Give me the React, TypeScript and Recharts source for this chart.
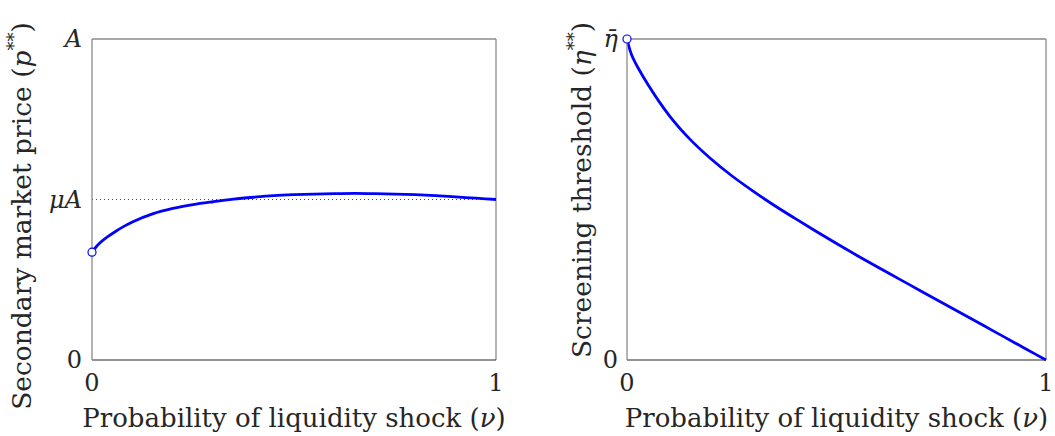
import React from 'react';
import { LineChart, Line, XAxis, YAxis, ReferenceLine, ReferenceDot } from 'recharts';

// Left panel: secondary market price p** (in units of A) vs nu
const nuLeft = [0, 0.01, 0.02, 0.04, 0.06, 0.08, 0.1, 0.15, 0.2, 0.25, 0.3, 0.35, 0.4, 0.45, 0.5, 0.55, 0.6, 0.65, 0.7, 0.75, 0.8, 0.85, 0.9, 0.95, 1.0];
const priceLeft = [0.336, 0.352, 0.365, 0.385, 0.402, 0.417, 0.43, 0.455, 0.472, 0.484, 0.493, 0.501, 0.507, 0.512, 0.515, 0.517, 0.518, 0.519, 0.518, 0.517, 0.515, 0.512, 0.508, 0.504, 0.5];

// Right panel: screening threshold eta** (in units of eta-bar) vs nu
const nuRight = [0, 0.005, 0.01, 0.02, 0.03, 0.05, 0.075, 0.1, 0.15, 0.2, 0.25, 0.3, 0.35, 0.4, 0.45, 0.5, 0.55, 0.6, 0.65, 0.7, 0.75, 0.8, 0.85, 0.9, 0.95, 1.0];
const etaRight = [1, 0.975, 0.954, 0.926, 0.902, 0.858, 0.808, 0.763, 0.688, 0.627, 0.574, 0.527, 0.483, 0.442, 0.402, 0.363, 0.325, 0.288, 0.252, 0.216, 0.18, 0.144, 0.108, 0.072, 0.036, 0];

const xTicks = [0, 1];
const xTickLabels = ['0', '1'];
const leftYTicks = [0, 0.5, 1];
const leftYTickLabels = ['0', 'μA', 'A'];
const rightYTicks = [0, 1];
const rightYTickLabels = ['0', 'η\u0304'];
const muLevel = 0.5;

const FONT = "'DejaVu Serif', serif";
const BLUE = '#0000ff';
const DARK = '#262626';
const GRAY = '#8a8a8a';

const leftData = nuLeft.map((n, i) => ({ nu: n, v: priceLeft[i] }));
const rightData = nuRight.map((n, i) => ({ nu: n, v: etaRight[i] }));

const makeYTick = (ticks: number[], labels: string[], italicIdx: number[]) => (props: any) => {
  const { x, y, payload } = props;
  const idx = ticks.indexOf(payload.value);
  const lab = labels[idx] ?? String(payload.value);
  const italic = italicIdx.includes(idx);
  return (
    <text x={x} y={y} dy={8} textAnchor="end" style={{ fontFamily: FONT, fontSize: 24, fontStyle: italic ? 'italic' : 'normal' }} fill={DARK}>
      {lab}
    </text>
  );
};

const XTick = (props: any) => {
  const { x, y, payload } = props;
  const idx = xTicks.indexOf(payload.value);
  return (
    <text x={x} y={y} dy={31} textAnchor="middle" style={{ fontFamily: FONT, fontSize: 24 }} fill={DARK}>
      {xTickLabels[idx]}
    </text>
  );
};

const XLabel = (props: any) => {
  const vb = props.viewBox || {};
  return (
    <text x={vb.x + vb.width / 2} y={vb.y + 67} textAnchor="middle" style={{ fontFamily: FONT, fontSize: 26 }} fill={DARK}>
      Probability of liquidity shock (<tspan fontStyle="italic">ν</tspan>)
    </text>
  );
};

const makeYLabel = (main: string, sym: string, offset: number, cy: number) => (props: any) => {
  const vb = props.viewBox || {};
  const cx = vb.x + vb.width - offset;
  return (
    <text x={cx} y={cy} textAnchor="middle" transform={`rotate(-90, ${cx}, ${cy})`} style={{ fontFamily: FONT, fontSize: 26.5 }} fill={DARK}>
      {main} (<tspan fontStyle="italic">{sym}</tspan>
      <tspan dy={-11} fontSize={18}>**</tspan>
      <tspan dy={11}>)</tspan>
    </text>
  );
};

export default function App() {
  return (
    <div style={{ position: 'absolute', left: 0, top: 0, width: 1055, height: 436, background: '#fff' }}>
      <div style={{ position: 'absolute', left: 0, top: 0 }}>
        <LineChart width={527} height={436} data={leftData} margin={{ top: 39, right: 31, bottom: 36, left: 32 }}>
          <XAxis dataKey="nu" type="number" domain={[0, 1]} ticks={xTicks} tickLine={false} tickSize={0} tickMargin={0}
            axisLine={{ stroke: DARK, strokeWidth: 1.2 }} tick={<XTick />} height={40} interval={0}
            label={{ content: <XLabel /> }} />
          <YAxis type="number" domain={[0, 1]} ticks={leftYTicks} tickLine={false} tickSize={0} tickMargin={10}
            axisLine={{ stroke: GRAY, strokeWidth: 1.3 }} width={60} interval={0}
            tick={makeYTick(leftYTicks, leftYTickLabels, [1, 2])}
            label={{ content: makeYLabel('Secondary market price', 'p', 61, 216) }} />
          <ReferenceLine y={1} stroke={GRAY} strokeWidth={1.3} />
          <ReferenceLine x={1} stroke={GRAY} strokeWidth={1.3} />
          <ReferenceLine y={muLevel} stroke="#444" strokeWidth={1} strokeDasharray="1 3" />
          <Line type="monotone" dataKey="v" stroke={BLUE} strokeWidth={2.8} dot={false} isAnimationActive={false} />
          <ReferenceDot x={nuLeft[0]} y={priceLeft[0]} r={4} fill="#fff" stroke={BLUE} strokeWidth={1.2} />
        </LineChart>
      </div>
      <div style={{ position: 'absolute', left: 527, top: 0 }}>
        <LineChart width={528} height={436} data={rightData} margin={{ top: 39, right: 9, bottom: 36, left: 40 }}>
          <XAxis dataKey="nu" type="number" domain={[0, 1]} ticks={xTicks} tickLine={false} tickSize={0} tickMargin={0}
            axisLine={{ stroke: DARK, strokeWidth: 1.2 }} tick={<XTick />} height={40} interval={0}
            label={{ content: <XLabel /> }} />
          <YAxis type="number" domain={[0, 1]} ticks={rightYTicks} tickLine={false} tickSize={0} tickMargin={9}
            axisLine={{ stroke: GRAY, strokeWidth: 1.3 }} width={60} interval={0}
            tick={makeYTick(rightYTicks, rightYTickLabels, [1])}
            label={{ content: makeYLabel('Screening threshold', 'η', 36, 190) }} />
          <ReferenceLine y={1} stroke={GRAY} strokeWidth={1.3} />
          <ReferenceLine x={1} stroke={GRAY} strokeWidth={1.3} />
          <Line type="monotone" dataKey="v" stroke={BLUE} strokeWidth={2.8} dot={false} isAnimationActive={false} />
          <ReferenceDot x={nuRight[0]} y={etaRight[0]} r={4} fill="#fff" stroke={BLUE} strokeWidth={1.2} />
        </LineChart>
      </div>
    </div>
  );
}
